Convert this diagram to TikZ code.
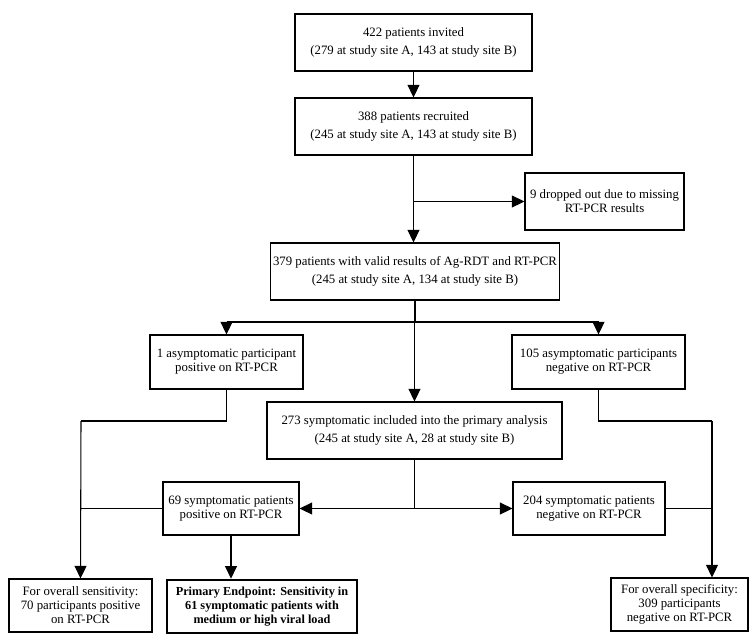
\documentclass[tikz,border=0pt]{standalone}
\usepackage{fontspec}
\setmainfont{Liberation Serif}
\usetikzlibrary{arrows.meta}
\tikzset{
  box/.style={draw, line width=0.8pt, align=center, inner sep=2pt, font=\fontsize{9.6}{10.5}\selectfont},
  endbox/.style={box, line width=2pt, font=\bfseries\fontsize{9.2}{10.5}\selectfont},
  arr/.style={-{Triangle[length=9.5pt,width=9pt]}, line width=0.8pt},
  ln/.style={line width=0.8pt}
}
\begin{document}
\begin{tikzpicture}[x=0.75pt, y=-0.75pt]
    \useasboundingbox (0,0) rectangle (755,640);
    \node[box, minimum width=177.75pt, minimum height=42.75pt] (inv) at (413.5,42.5)
        {422 patients invited\\[3.5pt](279 at study site A, 143 at study site B)};
    \node[box, minimum width=177.75pt, minimum height=42.75pt] (rec) at (413.5,126.5)
        {388 patients recruited\\[3.5pt](245 at study site A, 143 at study site B)};
    \node[box, minimum width=119.25pt, minimum height=42.75pt] (drop) at (604.5,201.5)
        {9 dropped out due to missing\\RT-PCR results};
    \node[box, minimum width=214.5pt, minimum height=42.75pt] (valid) at (415,271.5)
        {379 patients with valid results of Ag-RDT and RT-PCR\\[3.5pt](245 at study site A, 134 at study site B)};
    \node[box, minimum width=114.75pt, minimum height=40.5pt] (asyp) at (226.5,362)
        {1 asymptomatic participant\\positive on RT-PCR};
    \node[box, minimum width=129.75pt, minimum height=40.5pt] (asyn) at (598.5,362)
        {105 asymptomatic participants\\negative on RT-PCR};
    \node[box, minimum width=221.25pt, minimum height=42.75pt] (sym) at (414.5,430.5)
        {273 symptomatic included into the primary analysis\\[3.5pt](245 at study site A, 28 at study site B)};
    \node[box, minimum width=102pt, minimum height=39.75pt] (symp) at (231,508.5)
        {69 symptomatic patients\\positive on RT-PCR};
    \node[box, minimum width=114pt, minimum height=39.75pt] (symn) at (589,508.5)
        {204 symptomatic patients\\negative on RT-PCR};
    \node[box, minimum width=107.25pt, minimum height=39.75pt] (sens) at (80.5,605.5)
        {For overall sensitivity:\\70 participants positive\\on RT-PCR};
    \node[endbox, minimum width=142.5pt, minimum height=39.75pt] (prim) at (262,606.5)
        {Primary Endpoint: Sensitivity in\\61 symptomatic patients with\\medium or high viral load};
    \node[box, minimum width=102.75pt, minimum height=39.75pt] (spec) at (679.5,604.5)
        {For overall specificity:\\309 participants\\negative on RT-PCR};

    \coordinate (split1) at (415,322);
    \coordinate (lk) at (81,421);
    \coordinate (rk) at (712,421);

    \draw[arr] (inv) -- (rec);
    \draw[arr] (rec.south) -- (rec.south |- valid.north);
    \draw[arr] (rec.south |- drop.west) -- (drop.west);
    \draw[ln] (valid.south) -- (split1);
    \draw[ln] (asyp.north |- split1) -- (asyn.north |- split1);
    \foreach \n in {asyp, asyn, sym}
        \draw[arr] (\n.north |- split1) -- (\n.north);
    \draw[ln] (asyp.south) |- (lk);
    \draw[arr] (lk) -- (sens.north);
    \draw[ln] (symp.west) -- (lk |- symp.west);
    \draw[ln] (asyn.south) |- (rk);
    \draw[arr] (rk) -- (rk |- spec.north);
    \draw[ln] (symn.east) -- (rk |- symn.east);
    \draw[ln] (sym.south) -- (sym.south |- symp.east);
    \draw[arr] (sym.south |- symp.east) -- (symp.east);
    \draw[arr] (sym.south |- symn.west) -- (symn.west);
    \draw[arr] (symp.south) -- (symp.south |- prim.north);
\end{tikzpicture}
\end{document}
